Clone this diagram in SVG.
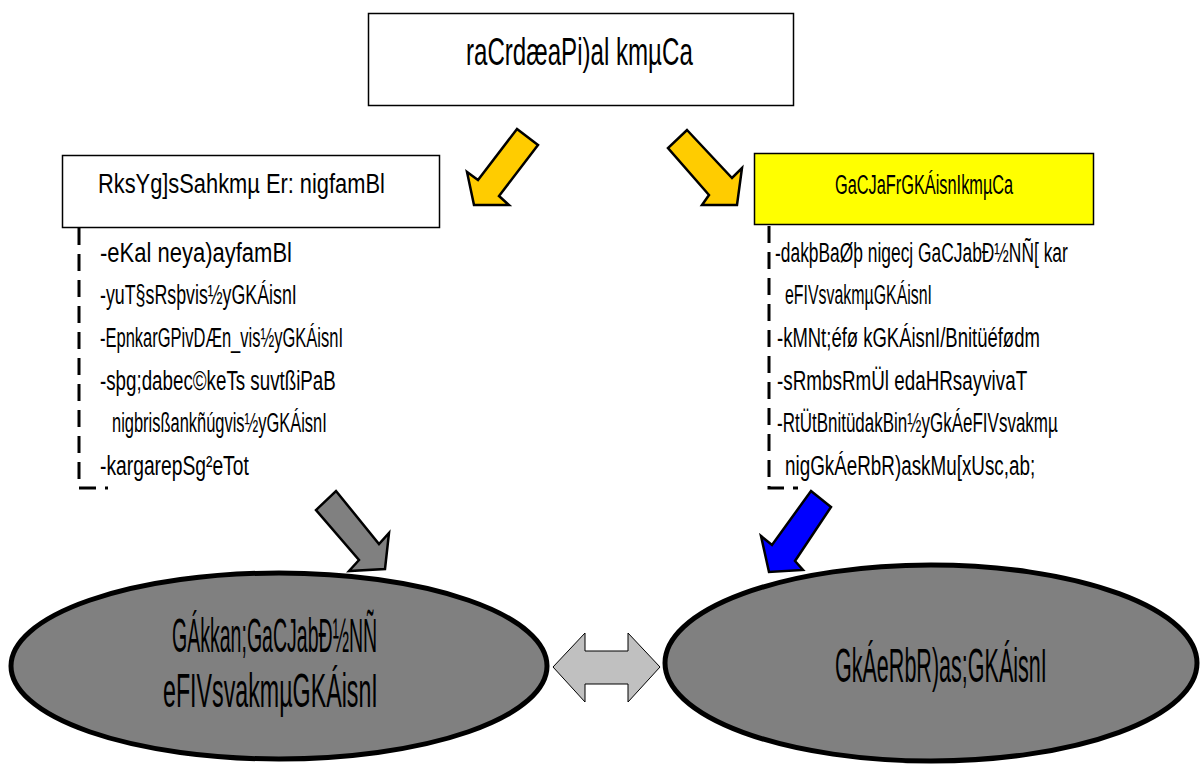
<svg xmlns="http://www.w3.org/2000/svg" width="1201" height="765" viewBox="0 0 1201 765">
<style>
.box{stroke:#000;stroke-width:1.5}
.t{font-family:"Liberation Sans",Arial,sans-serif;fill:#000}
.dash{fill:none;stroke:#000;stroke-width:3;stroke-dasharray:17 9}
.arr{stroke:#000;stroke-width:2.5;stroke-linejoin:miter}
.ell{fill:#808080;stroke:#000;stroke-width:5}
</style>
<rect width="1201" height="765" fill="#fff"/>
<g id="top">
<rect class="box" x="368.5" y="13.5" width="425" height="92" fill="#fff"/>
<text class="t" transform="translate(466,65) scale(0.6,1)" font-size="38" textLength="378" lengthAdjust="spacingAndGlyphs">raCrdæaPi)al kmµCa</text>
</g>
<g id="ministry">
<rect class="box" x="62.5" y="155.5" width="377" height="72" fill="#fff"/>
<text class="t" transform="translate(98,193) scale(0.6,1)" font-size="28" textLength="478" lengthAdjust="spacingAndGlyphs">RksYg]sSahkmµ Er: nigfamBl</text>
<path class="dash" d="M79,228 V488 H108"/>
<g font-size="28">
<text class="t" transform="translate(100,262) scale(0.6,1)" textLength="320" lengthAdjust="spacingAndGlyphs">-eKal neya)ayfamBl</text>
<text class="t" transform="translate(100,304) scale(0.6,1)" textLength="328" lengthAdjust="spacingAndGlyphs">-yuT§sRsþvis½yGKÁisnI</text>
<text class="t" transform="translate(100,347) scale(0.6,1)" textLength="405" lengthAdjust="spacingAndGlyphs">-EpnkarGPivDÆn_vis½yGKÁisnI</text>
<text class="t" transform="translate(100,390) scale(0.6,1)" textLength="393" lengthAdjust="spacingAndGlyphs">-sþg;dabec©keTs  suvtßiPaB</text>
<text class="t" transform="translate(112,432) scale(0.6,1)" textLength="358" lengthAdjust="spacingAndGlyphs">nigbrisßankñúgvis½yGKÁisnI</text>
<text class="t" transform="translate(100,475) scale(0.6,1)" textLength="248" lengthAdjust="spacingAndGlyphs">-kargarepSg²eTot</text>
</g>
</g>
<g id="authority">
<rect class="box" x="754.5" y="153.5" width="339" height="71" fill="#ffff00"/>
<text class="t" transform="translate(835,194) scale(0.6,1)" font-size="28" textLength="297" lengthAdjust="spacingAndGlyphs">GaCJaFrGKÁisnIkmµCa</text>
<path class="dash" d="M769,226 V488 H798"/>
<g font-size="28">
<text class="t" transform="translate(775,262) scale(0.6,1)" textLength="488" lengthAdjust="spacingAndGlyphs">-dakþBaØþ nigecj GaCJabÐ½NÑ[ kar</text>
<text class="t" transform="translate(785,304) scale(0.6,1)" textLength="245" lengthAdjust="spacingAndGlyphs">eFIVsvakmµGKÁisnI</text>
<text class="t" transform="translate(777,347) scale(0.6,1)" textLength="438" lengthAdjust="spacingAndGlyphs">-kMNt;éfø kGKÁisnI/Bnitüéfødm</text>
<text class="t" transform="translate(777,390) scale(0.6,1)" textLength="417" lengthAdjust="spacingAndGlyphs">-sRmbsRmÜl edaHRsayvivaT</text>
<text class="t" transform="translate(777,432) scale(0.6,1)" textLength="468" lengthAdjust="spacingAndGlyphs">-RtÜtBnitüdakBin½yGkÁeFIVsvakmµ</text>
<text class="t" transform="translate(785,475) scale(0.6,1)" textLength="417" lengthAdjust="spacingAndGlyphs">nigGkÁeRbR)askMu[xUsc,ab;</text>
</g>
</g>
<g id="licensees">
<ellipse class="ell" cx="279" cy="666" rx="268" ry="93"/>
<text class="t" transform="translate(172,652) scale(0.6,1)" font-size="49" textLength="342" lengthAdjust="spacingAndGlyphs">GÁkkan;GaCJabÐ½NÑ</text>
<text class="t" transform="translate(163,707) scale(0.6,1)" font-size="49" textLength="358" lengthAdjust="spacingAndGlyphs">eFIVsvakmµGKÁisnI</text>
</g>
<g id="consumers">
<ellipse class="ell" cx="931" cy="663" rx="266" ry="98"/>
<text class="t" transform="translate(835,682) scale(0.6,1)" font-size="49" textLength="353" lengthAdjust="spacingAndGlyphs">GkÁeRbR)as;GKÁisnI</text>
</g>
<g id="connectors">
<polygon class="arr" fill="#ffcc00" points="517,129 538,145 499,196 509,205 474,205 467,172 478,180"/>
<polygon class="arr" fill="#ffcc00" points="687,130 732,178 742,168 737,205 702,205 709,195 668,148"/>
<polygon class="arr" fill="#808080" points="336,491 379,544 389,533 385,569 349,571 359,560 316,510"/>
<polygon class="arr" fill="#0000ff" points="811,491 831,507 795,561 803,570 769,572 761,536 772,545"/>
<polygon fill="#c0c0c0" stroke="#000" stroke-width="1" points="553,667 585,633 585,651 628,651 628,633 660,667 628,702 628,684 585,684 585,702"/>
</g>
</svg>
